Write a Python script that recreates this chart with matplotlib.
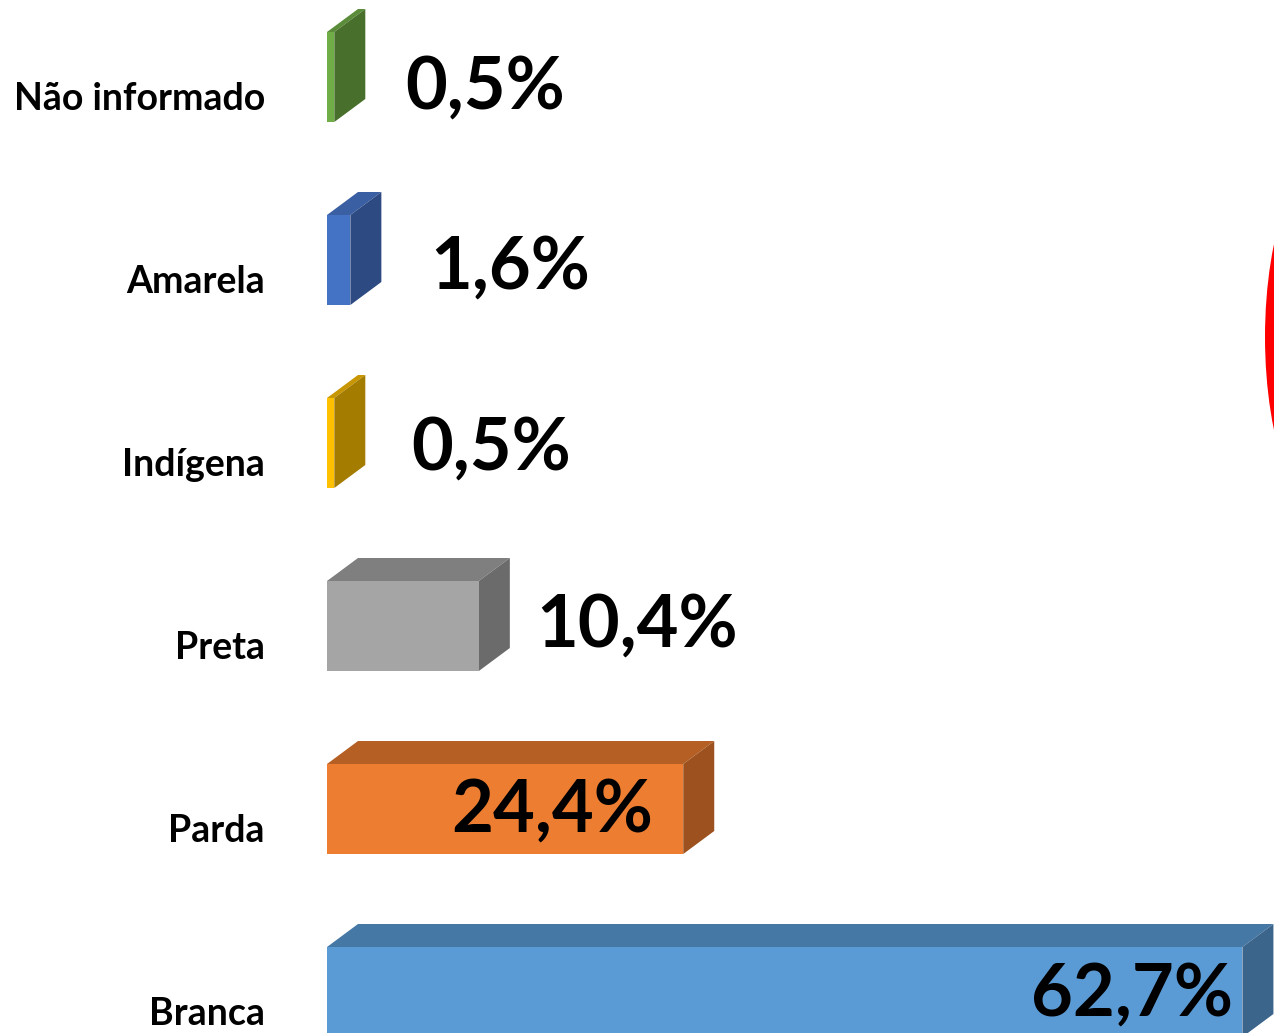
import matplotlib
matplotlib.use("Agg")
import matplotlib.pyplot as plt
from matplotlib.patches import Polygon, Rectangle, Ellipse

# data, bottom to top
categories = ["Branca", "Parda", "Preta", "Indígena", "Amarela", "Não informado"]
values = [62.7, 24.4, 10.4, 0.5, 1.6, 0.5]
value_labels = ["62,7%", "24,4%", "10,4%", "0,5%", "1,6%", "0,5%"]

# front / top / side colours per bar
front_colors = ["#5B9BD5", "#ED7D31", "#A5A5A5", "#FFC000", "#4472C4", "#70AD47"]
top_colors = ["#4678A5", "#B65F24", "#7F7F7F", "#C89600", "#3A5FA3", "#5A8C39"]
side_colors = ["#3C658C", "#9C511E", "#6B6B6B", "#A47C00", "#2D4A82", "#48702C"]

W, H = 1274, 1033
PX_PER_PCT = 14.6
X0 = 327          # pixel where 0 % sits
ROW = 183         # pixels between bars
Y0 = 41           # pixel (from bottom) of the lowest bar centre

fig = plt.figure(figsize=(W / 100, H / 100), dpi=100)
ax = fig.add_axes([0, 0, 1, 1])
ax.set_xlim(-X0 / PX_PER_PCT, (W - X0) / PX_PER_PCT)
ax.set_ylim(-Y0 / ROW, (H - Y0) / ROW)
ax.axis("off")

bh = 90 / ROW             # bar height
dx = 31 / PX_PER_PCT      # 3d depth in x
dy = 23 / ROW             # 3d depth in y
fam = ["Lato", "DejaVu Sans"]

# label nudges in pixels (x from bar end, y baseline below centre)
lab_dx = [-9, -30, 26, 46, 49, 40]
lab_dy = [24, 23, 21, 27, 29, 32]
inside = [True, True, False, False, False, False]

for i, (cat, v) in enumerate(zip(categories, values)):
    y = i
    lo, hi = y - bh / 2, y + bh / 2
    ax.add_patch(Polygon([(0, hi), (dx, hi + dy), (v + dx, hi + dy), (v, hi)],
                         closed=True, facecolor=top_colors[i], edgecolor="none"))
    ax.add_patch(Polygon([(v, lo), (v + dx, lo + dy), (v + dx, hi + dy), (v, hi)],
                         closed=True, facecolor=side_colors[i], edgecolor="none"))
    ax.add_patch(Rectangle((0, lo), v, bh, facecolor=front_colors[i], edgecolor="none"))

    ax.text(-62 / PX_PER_PCT, y - 33 / ROW, cat, ha="right", va="baseline",
            fontsize=27, fontweight="bold", family=fam, color="black")

    if inside[i]:
        lx = v + lab_dx[i] / PX_PER_PCT
        ha = "right"
    else:
        lx = v + dx + lab_dx[i] / PX_PER_PCT
        ha = "left"
    ax.text(lx, y - lab_dy[i] / ROW, value_labels[i], ha=ha, va="baseline",
            fontsize=52, fontweight="bold", family=fam, color="black")

# red outline shape peeking in at the right edge
ax.add_patch(Ellipse((1340 / 100, 696 / 100), 150 / 100, 392 / 100,
                     transform=fig.dpi_scale_trans, facecolor="#FF0000",
                     edgecolor="none"))

fig.savefig("out.png", dpi=100)
